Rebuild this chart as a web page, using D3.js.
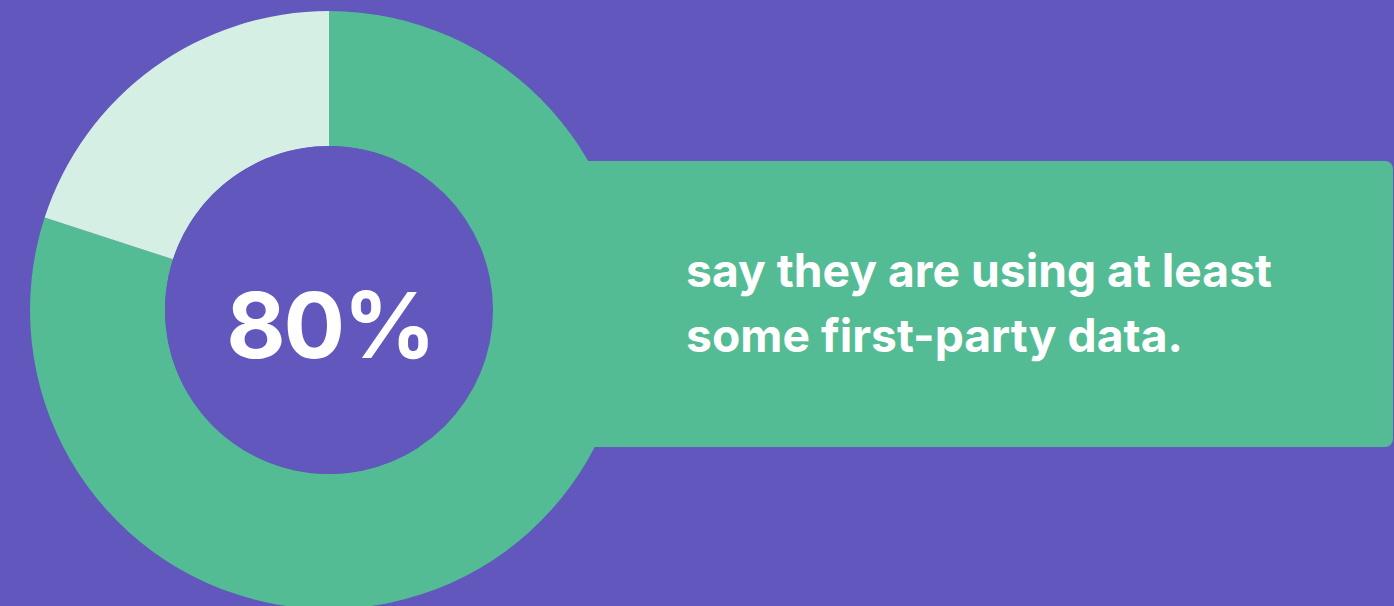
<!DOCTYPE html>
<html>
<head>
<meta charset="utf-8">
<script src="https://cdn.jsdelivr.net/npm/d3@7"></script>
<style>
  html, body { margin: 0; padding: 0; background: #6157bc; overflow: hidden; }
  svg { display: block; }
</style>
</head>
<body>
<div id="chart"></div>
<script>
// Set H/W
const svgWidth = 1394;
const svgHeight = 606;

// data
const labels = ["using first-party data", "not using"];
const values = [80, 20];
const colors = ["#53bc94", "#d5efe4"];
const bigLabel = "80%";
const captionLines = ["say they are using at least", "some first-party data."];

const cx = 329, cy = 310;
const outerR = 299, innerR = 164;

const svg = d3.select("#chart")
  .append("svg")
  .attr("width", svgWidth)
  .attr("height", svgHeight);

svg.append("rect")
  .attr("width", svgWidth)
  .attr("height", svgHeight)
  .attr("fill", "#6157bc");

// green banner behind the donut
svg.append("rect")
  .attr("x", cx)
  .attr("y", 161)
  .attr("width", svgWidth - cx - 1)
  .attr("height", 286)
  .attr("rx", 8)
  .attr("fill", colors[0]);

// donut
const pie = d3.pie().sort(null).value(d => d);
const arc = d3.arc().innerRadius(innerR).outerRadius(outerR);

const chartGroup = svg.append("g")
  .attr("transform", `translate(${cx}, ${cy})`);

chartGroup.selectAll("path")
  .data(pie(values))
  .enter()
  .append("path")
  .attr("d", arc)
  .attr("fill", (d, i) => colors[i]);

// hole
chartGroup.append("circle")
  .attr("r", innerR)
  .attr("fill", "#6157bc");

// big number
const big = chartGroup.append("text")
  .attr("x", 1)
  .attr("y", 48)
  .attr("text-anchor", "middle")
  .style("font-family", "Inter, 'Noto Sans', sans-serif")
  .style("font-weight", 700)
  .style("font-size", "95px")
  .style("letter-spacing", "-2px")
  .attr("fill", "#ffffff")
  .text(bigLabel);

// fit width to ~210px
let bw = big.node().getComputedTextLength();
big.style("font-size", (95 * 208 / bw) + "px");

// caption
const caption = svg.append("g");
caption.selectAll("text")
  .data(captionLines)
  .enter()
  .append("text")
  .attr("x", 686)
  .attr("y", (d, i) => 287 + i * 65)
  .style("font-family", "Inter, 'Noto Sans', sans-serif")
  .style("font-weight", 700)
  .style("font-size", "44px")
  .attr("fill", "#ffffff")
  .text(d => d);

// scale caption so first line is ~586px wide
const w1 = caption.select("text").node().getComputedTextLength();
caption.selectAll("text").style("font-size", (44 * 586 / w1) + "px");
</script>
</body>
</html>
